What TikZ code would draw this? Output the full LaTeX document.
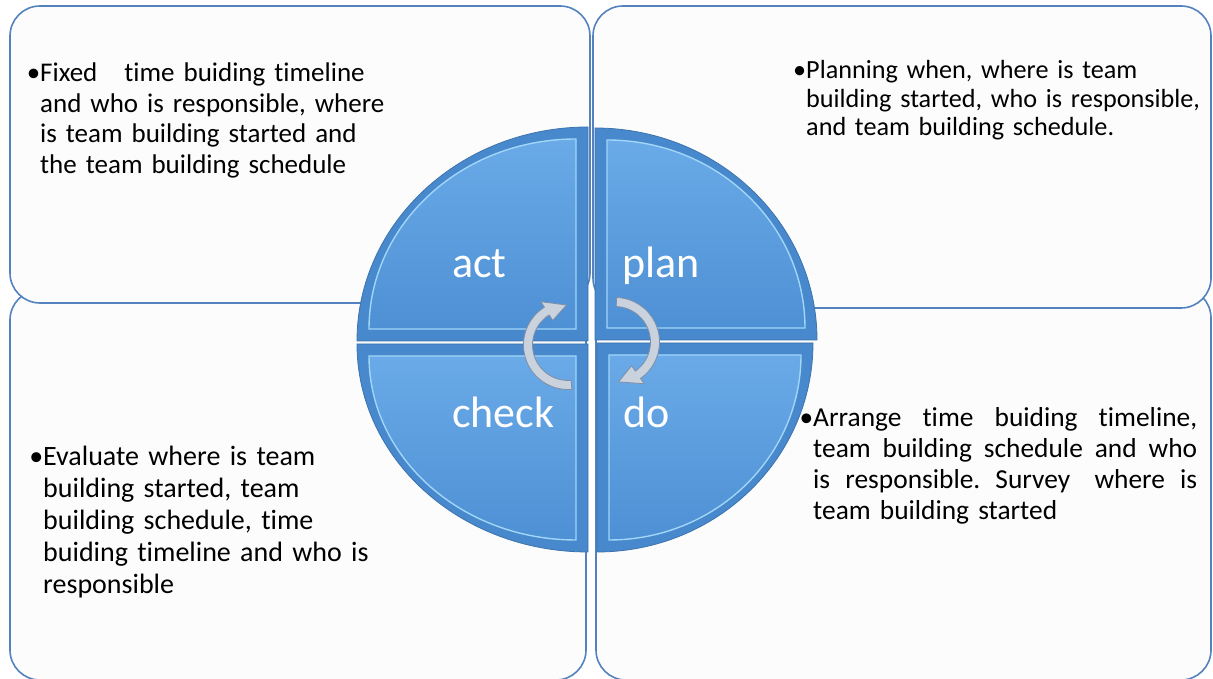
\documentclass[tikz,border=0pt]{standalone}
\usepackage{fontspec}
\setmainfont{Carlito}[Ligatures=NoCommon]
\usetikzlibrary{positioning,calc}
\definecolor{boxedge}{RGB}{84,130,190}
\definecolor{boxfill}{RGB}{252,252,252}
\definecolor{quadrim}{RGB}{72,136,204}
\definecolor{quadtop}{RGB}{106,170,232}
\definecolor{quadbot}{RGB}{78,144,212}
\definecolor{quadglow}{RGB}{160,214,248}
\definecolor{arrowfill}{RGB}{202,210,222}
\definecolor{arrowedge}{RGB}{128,143,166}

\tikzset{
  infobox/.style={draw=boxedge, line width=1.6pt, fill=boxfill, rounded corners=30pt},
  quadrant/.style={fill=quadrim, draw=quadrim!85!black, line width=0.8pt},
  quadface/.style={top color=quadtop, bottom color=quadbot, draw=quadglow, line width=1.4pt},
  pdcalabel/.style={text=white, font=\fontsize{44}{44}\selectfont, inner sep=0pt, anchor=base west},
  boxtext/.style={text width=#1, align=left, inner sep=0pt, anchor=base west},
  cyclearrow/.style={fill=arrowfill, draw=arrowedge, line width=0.8pt}
}

\begin{document}
\begin{tikzpicture}[x=1pt,y=1pt]
				% Page frame
				\fill[white] (0,0) rectangle (1213,679);
				\useasboundingbox (0,0) rectangle (1213,679);
				
				% Four text boxes
				\draw[infobox] (10,-1) rectangle (586,389);
				\draw[infobox] (596,-1) rectangle (1211,391);
				\draw[infobox] (10,376) rectangle (590,673);
				\draw[infobox] (593,371) rectangle (1211,673);
				
				% Circle split in four quadrants
				\path[quadrant] (588,338) -- (357,338) arc[start angle=180, end angle=90, x radius=231, y radius=214] -- cycle;
				\path[quadrant] (595,339) -- (595,551) arc[start angle=90, end angle=0, x radius=222, y radius=212] -- cycle;
				\path[quadrant] (588,335) -- (357,335) arc[start angle=180, end angle=270, x radius=231, y radius=208] -- cycle;
				\path[quadrant] (597,336) -- (813,336) arc[start angle=0, end angle=-90, x radius=216, y radius=209] -- cycle;
				
				% Bevelled faces
				\path[quadface] (576,350) -- (369,350) arc[start angle=180, end angle=90, x radius=207, y radius=190] -- cycle;
				\path[quadface] (607,351) -- (607,539) arc[start angle=90, end angle=0, x radius=198, y radius=188] -- cycle;
				\path[quadface] (576,323) -- (369,323) arc[start angle=180, end angle=270, x radius=207, y radius=184] -- cycle;
				\path[quadface] (609,324) -- (801,324) arc[start angle=0, end angle=-90, x radius=192, y radius=185] -- cycle;
				
				% Quadrant labels
				\node[pdcalabel] (act) at (452,401) {act};
				\node[pdcalabel] (plan) at (622,401) {plan};
				\node[pdcalabel] (check) at (452,251) {check};
				\node[pdcalabel] (do) at (623,251) {do};
				
				% Cycle arrows
				\begin{scope}[shift={(568,334)}]
					\path[cyclearrow] (275:44.5) arc[start angle=275, end angle=122, radius=44.5] -- (122:51) -- (92:40) -- (122:29) -- (122:35.5) arc[start angle=122, end angle=275, radius=35.5] -- cycle;
				\end{scope}
				\begin{scope}[shift={(615,337)}]
					\path[cyclearrow] (88:44.5) arc[start angle=88, end angle=-55, radius=44.5] -- (-55:51) -- (-85:40) -- (-55:29) -- (-55:35.5) arc[start angle=-55, end angle=88, radius=35.5] -- cycle;
				\end{scope}
				
				% Box texts
				\node[boxtext=500pt, font=\fontsize{27}{30.5}\selectfont] (fixedtext) at (40,597)
					{\leavevmode\llap{•}Fixed~~~time buiding timeline\\ and who is responsible, where\\ is team building started and\\ the team building schedule};
				\node[boxtext=420pt, font=\fontsize{26.2}{28.5}\selectfont] (planningtext) at (806,600)
					{\leavevmode\llap{•}Planning when, where is team\\ building started, who is responsible,\\ and team building schedule.};
				\node[boxtext=500pt, font=\fontsize{28}{32}\selectfont] (evaluatetext) at (43,213)
					{\leavevmode\llap{•}Evaluate where is team\\ building started, team\\ building schedule, time\\ buiding timeline and who is\\ responsible};
				\node[boxtext=420pt, font=\fontsize{27.4}{31}\selectfont] (arrangetext) at (813,252)
					{\leavevmode\llap{•}\makebox[384pt][s]{Arrange~\hfill time~\hfill buiding~\hfill timeline,}\\ \makebox[384pt][s]{team~\hfill building~\hfill schedule~\hfill and~\hfill who}\\ \makebox[384pt][s]{is~\hfill responsible.~\hfill Survey~~\hfill where~\hfill is}\\ team building started};
			\end{tikzpicture}
\end{document}
